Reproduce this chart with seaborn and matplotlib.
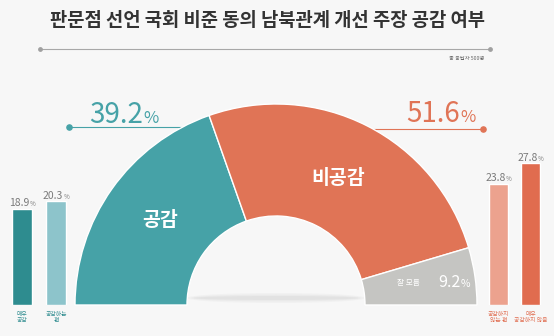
import matplotlib
matplotlib.use("Agg")
import matplotlib.pyplot as plt
import seaborn as sns
import pandas as pd
from matplotlib.patches import Ellipse

# ---- data ----
title = "판문점 선언 국회 비준 동의 남북관계 개선 주장 공감 여부"
note = "총 응답자 500명"
summary_labels = ["공감", "비공감", "잘 모름"]
summary_values = [39.2, 51.6, 9.2]
agree_labels = ["매우\n공감", "공감하는\n편"]
agree_values = [18.9, 20.3]
disagree_labels = ["공감하지\n않는 편", "매우\n공감하지 않음"]
disagree_values = [23.8, 27.8]

# ---- style ----
sns.set_theme(style="white")
FONT = ["Noto Sans CJK KR", "DejaVu Sans"]
plt.rcParams["font.family"] = FONT
BG = "#f7f7f7"
TEAL = "#46a2a7"
ORANGE = "#e07456"
GRAY = "#c5c5c2"
DARK_TEAL = "#2e8c8f"
LIGHT_TEAL = "#8dc4cb"
LIGHT_SALMON = "#eca28e"
SALMON = "#e06c4f"
W, H = 554, 336

fig = plt.figure(figsize=(W / 100, H / 100), dpi=100, facecolor=BG)
ax = fig.add_axes([0, 0, 1, 1])
ax.set_facecolor(BG)

# ---- semicircle donut ----
cx, cy, R, r_in = 276, H - 305, 201, 89
pie_vals = summary_values + [sum(summary_values)]
wedges, _ = ax.pie(pie_vals, colors=[TEAL, ORANGE, GRAY, "none"], startangle=180,
                   counterclock=False, center=(cx, cy), radius=R,
                   wedgeprops=dict(width=R - r_in, edgecolor="white", linewidth=1.0),
                   frame=True)
wedges[-1].set_edgecolor("none")
for w in wedges:
    w.set_zorder(3)
ax.set_xlim(0, W)
ax.set_ylim(0, H)
ax.set_aspect("equal")
ax.axis("off")

# soft shadow in the hole
for i, a in enumerate([0.05, 0.06, 0.08]):
    ax.add_patch(Ellipse((cx, cy + 7), 2 * r_in * (1 - 0.04 * i), 10 - 3 * i,
                         facecolor="#888888", alpha=a, edgecolor="none", zorder=2))

# ---- title ----
ax.text(267, H - 21, title, ha="center", va="center", fontsize=13.5,
        fontweight="bold", color="#333333")
ax.plot([40, 490], [H - 49, H - 49], color="#a8a8a8", lw=0.8, zorder=1)
ax.scatter([40, 490], [H - 49, H - 49], s=6, color="#a0a0a0", zorder=1)
ax.text(484, H - 59, note, ha="right", va="center", fontsize=3.8, color="#666666")

fig.canvas.draw()
inv = ax.transData.inverted()


def num_pct(x, y, num, color, big, small, ha="left", weight="normal", gap=0.3):
    t = ax.text(x, y, num, ha="left", va="baseline", fontsize=big, color=color,
                fontweight=weight, zorder=6)
    fig.canvas.draw()
    bb = t.get_window_extent()
    (x0, _), (x1, _) = inv.transform([(bb.x0, bb.y0), (bb.x1, bb.y1)])
    p = ax.text(x1 + gap, y, "%", ha="left", va="baseline", fontsize=small,
                color=color, fontweight=weight, zorder=6)
    fig.canvas.draw()
    pb = p.get_window_extent()
    (_, _), (px1, _) = inv.transform([(pb.x0, pb.y0), (pb.x1, pb.y1)])
    total = px1 - x0
    if ha == "center":
        shift = -total / 2
    elif ha == "right":
        shift = -total
    else:
        shift = 0
    t.set_x(x + shift)
    p.set_x(x1 + gap + shift)


# headline percentages
ax.plot([69, 190], [H - 127, H - 127], color=TEAL, lw=0.8, zorder=1)
ax.scatter([69], [H - 127], s=14, color=TEAL, zorder=1)
num_pct(89, H - 123, f"{summary_values[0]}", TEAL, 20, 12)
ax.plot([370, 483], [H - 129, H - 129], color=ORANGE, lw=0.8, zorder=1)
ax.scatter([483], [H - 129], s=14, color=ORANGE, zorder=1)
num_pct(406, H - 122, f"{summary_values[1]}", ORANGE, 20, 12)

# labels inside donut
ax.text(160, H - 221, summary_labels[0], ha="center", va="center", fontsize=14,
        color="white", fontweight="bold", zorder=6)
ax.text(338, H - 179, summary_labels[1], ha="center", va="center", fontsize=14,
        color="white", fontweight="bold", zorder=6)
ax.text(408, H - 283, summary_labels[2], ha="center", va="center", fontsize=5.5,
        color="white", zorder=6)
num_pct(438, H - 287, f"{summary_values[2]}", "white", 11.5, 7.5)

# ---- detail bars ----
PX_PER = 5.1
y_top = 30


def bar_panel(left_px, right_px, labels, values, colors, text_color, bw):
    height_px = y_top * PX_PER
    bax = fig.add_axes([left_px / W, (H - 305) / H, (right_px - left_px) / W, height_px / H])
    df = pd.DataFrame({"label": labels, "value": values})
    sns.barplot(data=df, x="label", y="value", hue="label", palette=colors,
                legend=False, ax=bax, width=bw, saturation=1)
    bax.set_xlim(-0.5, len(labels) - 0.5)
    bax.set_ylim(0, y_top)
    bax.axis("off")
    bax.patch.set_alpha(0)
    for i, (lab, v) in enumerate(zip(labels, values)):
        xd, yd = bax.transData.transform((i, v))
        (xa, ya) = inv.transform((xd, yd))
        num_pct(xa, ya + 2.5, f"{v}", "#7a7a7a", 7.5, 4.5, ha="center")
        ax.text(xa, H - 312, lab, ha="center", va="top", fontsize=4.2,
                color=text_color, linespacing=1.25)


bar_panel(5, 73, agree_labels, agree_values, [DARK_TEAL, LIGHT_TEAL], DARK_TEAL, 0.59)
bar_panel(482.5, 546.5, disagree_labels, disagree_values, [LIGHT_SALMON, SALMON], SALMON, 0.6)

fig.savefig("out.png", dpi=100, facecolor=BG)
